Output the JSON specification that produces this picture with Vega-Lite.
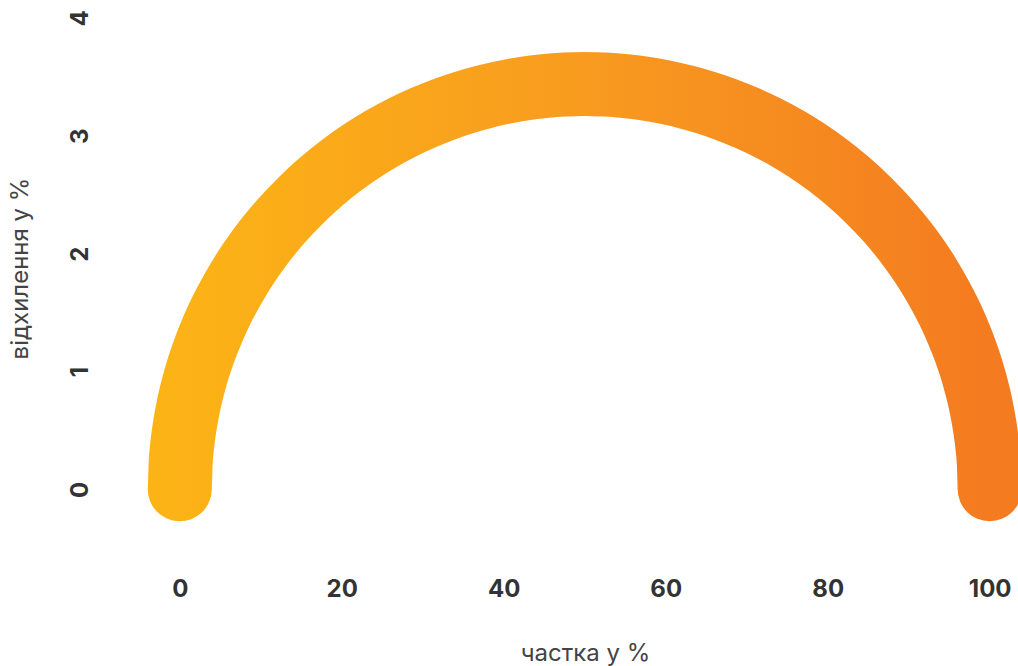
{
  "$schema": "https://vega.github.io/schema/vega-lite/v6.json",
  "autosize": "none",
  "width": 903,
  "height": 542,
  "padding": {"left": 115, "top": 18, "right": 0, "bottom": 106},
  "background": "white",
  "config": {"view": {"stroke": null}},
  "data": {"values": [
    {"x": 0, "y": 0}, {"x": 0.1, "y": 0.217}, {"x": 0.25, "y": 0.344}, {"x": 0.5, "y": 0.485},
    {"x": 1, "y": 0.684}, {"x": 2, "y": 0.963}, {"x": 3, "y": 1.173}, {"x": 4, "y": 1.348},
    {"x": 5, "y": 1.499}, {"x": 7.5, "y": 1.812}, {"x": 10, "y": 2.064}, {"x": 12.5, "y": 2.275},
    {"x": 15, "y": 2.456}, {"x": 17.5, "y": 2.614}, {"x": 20, "y": 2.752}, {"x": 22.5, "y": 2.873},
    {"x": 25, "y": 2.979}, {"x": 27.5, "y": 3.072}, {"x": 30, "y": 3.152}, {"x": 32.5, "y": 3.222},
    {"x": 35, "y": 3.281}, {"x": 37.5, "y": 3.33}, {"x": 40, "y": 3.37}, {"x": 42.5, "y": 3.401},
    {"x": 45, "y": 3.422}, {"x": 47.5, "y": 3.435}, {"x": 50, "y": 3.44},
    {"x": 52.5, "y": 3.435}, {"x": 55, "y": 3.422}, {"x": 57.5, "y": 3.401}, {"x": 60, "y": 3.37},
    {"x": 62.5, "y": 3.33}, {"x": 65, "y": 3.281}, {"x": 67.5, "y": 3.222}, {"x": 70, "y": 3.152},
    {"x": 72.5, "y": 3.072}, {"x": 75, "y": 2.979}, {"x": 77.5, "y": 2.873}, {"x": 80, "y": 2.752},
    {"x": 82.5, "y": 2.614}, {"x": 85, "y": 2.456}, {"x": 87.5, "y": 2.275}, {"x": 90, "y": 2.064},
    {"x": 92.5, "y": 1.812}, {"x": 95, "y": 1.499}, {"x": 96, "y": 1.348}, {"x": 97, "y": 1.173},
    {"x": 98, "y": 0.963}, {"x": 99, "y": 0.684}, {"x": 99.5, "y": 0.485}, {"x": 99.75, "y": 0.344},
    {"x": 99.9, "y": 0.217}, {"x": 100, "y": 0}
  ]},
  "mark": {
    "type": "line",
    "interpolate": "monotone",
    "strokeWidth": 64,
    "strokeCap": "round",
    "strokeJoin": "round",
    "clip": false,
    "color": {
      "gradient": "linear",
      "x1": 0, "x2": 1, "y1": 0, "y2": 0,
      "stops": [
        {"offset": 0, "color": "#FCB316"},
        {"offset": 0.5, "color": "#F89B1F"},
        {"offset": 1, "color": "#F47B20"}
      ]
    }
  },
  "encoding": {
    "x": {
      "field": "x", "type": "quantitative",
      "scale": {"domain": [-8, 103.5], "nice": false, "zero": false},
      "axis": {
        "values": [0, 20, 40, 60, 80, 100],
        "title": "частка у %",
        "titleX": 470,
        "grid": false, "domain": false, "ticks": false,
        "labelFont": "Inter", "labelFontSize": 24, "labelFontWeight": "bold", "labelColor": "#333333",
        "labelPadding": 17,
        "titleFont": "Inter", "titleFontSize": 24, "titleFontWeight": "normal", "titleColor": "#444444",
        "titlePadding": 40
      }
    },
    "y": {
      "field": "y", "type": "quantitative",
      "scale": {"domain": [-0.6, 4], "nice": false, "zero": false},
      "axis": {
        "values": [0, 1, 2, 3, 4],
        "title": "відхилення у %",
        "titleY": 250,
        "grid": false, "domain": false, "ticks": false,
        "labelAngle": -90, "labelAlign": "center", "labelBaseline": "bottom",
        "labelFont": "Inter", "labelFontSize": 24, "labelFontWeight": "bold", "labelColor": "#333333",
        "labelPadding": 23,
        "titleFont": "Inter", "titleFontSize": 24, "titleFontWeight": "normal", "titleColor": "#444444",
        "titlePadding": 36
      }
    }
  }
}
